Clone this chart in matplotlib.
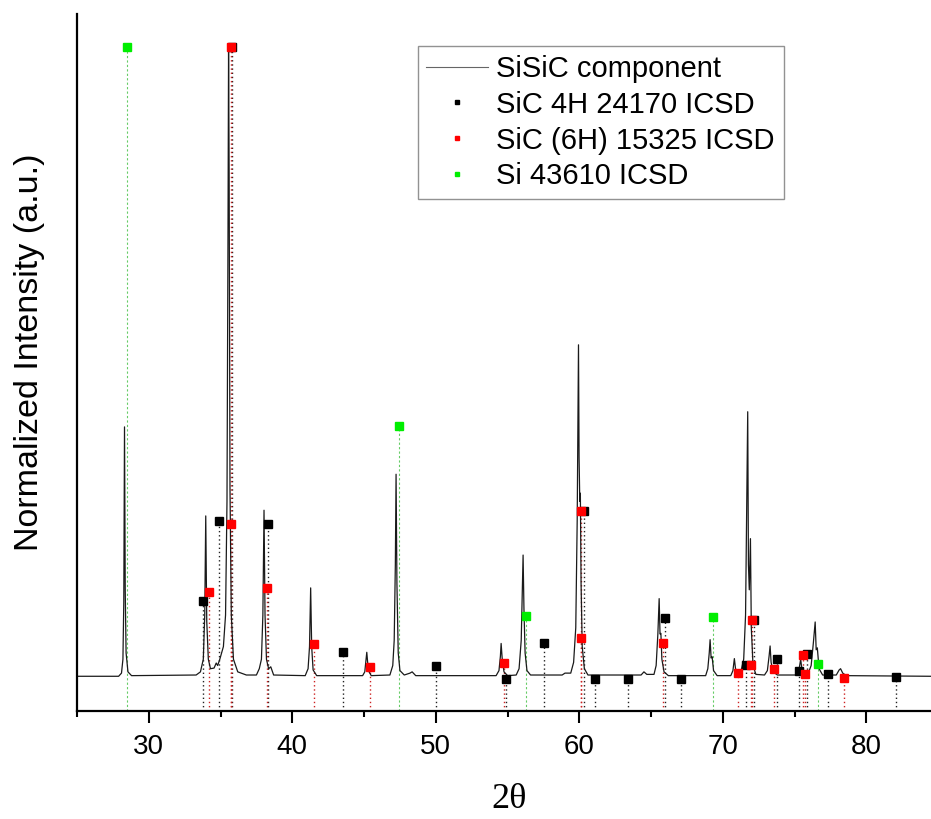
import numpy as np
import matplotlib
matplotlib.use("Agg")
import matplotlib.pyplot as plt
from matplotlib.ticker import MultipleLocator

plt.rcParams['font.family'] = ['Liberation Sans', 'DejaVu Sans']

# Patron de difraccion (vertices)
tt = [25.0, 27.9, 28.1, 28.2, 28.26, 28.31, 28.36, 28.42, 28.55, 28.8,
      33.3, 33.6, 33.8, 33.9, 33.97, 34.04, 34.15, 34.3, 34.55, 34.7, 34.8, 34.95,
      35.2, 35.35, 35.45, 35.52, 35.56, 35.6, 35.66, 35.75, 35.9, 36.2, 36.8,
      37.5, 37.7, 37.85, 37.95, 38.03, 38.1, 38.2, 38.35, 38.5, 38.7,
      40.9, 41.1, 41.2, 41.28, 41.35, 41.45, 41.7,
      44.9, 45.05, 45.19, 45.3, 45.5,
      46.8, 47.0, 47.1, 47.18, 47.23, 47.29, 47.38, 47.5, 47.8, 48.2, 48.35, 48.6,
      54.2, 54.4, 54.5, 54.55, 54.62, 54.75, 55.0,
      55.6, 55.8, 55.95, 56.03, 56.08, 56.14, 56.22, 56.35, 56.6,
      58.8, 59.0, 59.4, 59.6, 59.75, 59.85, 59.92, 59.94, 59.98, 60.03, 60.07, 60.12,
      60.2, 60.35, 60.6,
      64.3, 64.5, 64.7,
      65.2, 65.35, 65.47, 65.56, 65.62, 65.68, 65.75, 65.9, 66.2,
      68.8, 68.95, 69.05, 69.11, 69.18, 69.25, 69.35, 69.6,
      70.55, 70.7, 70.8, 70.88, 70.98,
      71.25, 71.45, 71.58, 71.66, 71.73, 71.78, 71.84, 71.92, 71.98, 72.1, 72.3,
      72.9, 73.1, 73.22, 73.29, 73.36, 73.5, 73.8,
      75.1, 75.3, 75.42, 75.5, 75.65,
      75.95, 76.15, 76.3, 76.43, 76.5, 76.58, 76.7, 76.95,
      77.9, 78.1, 78.2, 78.35, 78.6, 84.5]
inten = [0.3, 0.3, 0.8, 3, 12, 39.8, 14, 4, 1, 0.4,
         0.5, 1.0, 3, 10, 25.7, 9, 3, 1.5, 1.6, 2.4, 2.0, 3.0,
         5, 10, 28, 70, 99.5, 80, 30, 10, 3, 1, 0.5,
         0.5, 1.5, 3, 10, 26.6, 10, 3, 1.5, 1.8, 0.5,
         0.4, 1.5, 5, 14.3, 5, 1.3, 0.4,
         0.4, 1, 4.1, 1.2, 0.4,
         0.5, 2, 6, 18, 32.3, 15, 4, 1.2, 0.5, 0.8, 1.0, 0.4,
         0.4, 1.2, 3.5, 5.5, 3.2, 1.0, 0.4,
         0.5, 1.5, 6, 14, 19.5, 11, 4, 1.2, 0.5,
         0.5, 0.8, 0.8, 2.5, 8, 25, 45, 52.8, 35, 28, 29.3, 15,
         5, 1.5, 0.5,
         0.5, 1.0, 0.6,
         0.6, 2, 7, 12.6, 7, 7.1, 3, 1, 0.4,
         0.4, 1.5, 4, 6.1, 3.2, 3.4, 1.2, 0.4,
         0.4, 1.2, 3.1, 1.5, 1.2,
         1.0, 3, 10, 28, 42.2, 18, 14, 22.1, 8, 2, 0.6,
         0.5, 1.2, 3.5, 5.1, 2.5, 1.0, 0.5,
         0.5, 1.3, 3.0, 1.5, 1.0,
         0.8, 2, 5.5, 8.9, 4.5, 4.8, 1.5, 0.5,
         0.5, 1.3, 1.5, 0.8, 0.4, 0.3]

# Posiciones de referencia (2theta, intensidad relativa)
sic4h_pos = [33.76, 34.92, 35.78, 38.31, 43.51, 50.02, 54.9, 57.54, 60.35, 61.12,
             63.42, 65.99, 67.1, 71.59, 72.18, 73.75, 75.31, 75.84, 77.29, 82.07]
sic4h_int = [12.3, 24.9, 100, 24.4, 4.2, 1.9, -0.2, 5.6, 26.4, -0.2,
             -0.2, 9.6, -0.2, 2.1, 9.2, 3.0, 1.1, 3.8, 0.6, 0.2]

sic6h_pos = [34.18, 35.73, 35.7, 38.24, 41.49, 45.4, 54.76, 60.12, 60.12, 65.81,
             71.03, 71.94, 72.0, 73.57, 75.61, 75.73, 78.47]
sic6h_int = [13.6, 24.4, 100, 14.3, 5.4, 1.8, 2.4, 26.4, 6.4, 5.5,
             0.8, 2.1, 9.2, 1.5, 3.6, 0.6, 0.0]

si_pos = [28.48, 47.41, 56.29, 69.34, 76.61]
si_int = [100, 39.9, 9.9, 9.7, 2.3]

ymin, ymax = -5.2, 105.2

fig = plt.figure(figsize=(9.31, 8.19), dpi=100)
ax = fig.add_axes([77 / 931, 108 / 819, 854 / 931, 697 / 819])

# lineas punteadas hasta el eje
ax.vlines(sic4h_pos, ymin, sic4h_int, colors="#222222", linestyles=(0, (1, 2)), lw=1, zorder=1)
ax.vlines(sic6h_pos, ymin, sic6h_int, colors="#cc2222", linestyles=(0, (1, 2)), lw=1, zorder=1)
ax.vlines(si_pos, ymin, si_int, colors="#66cc66", linestyles=(0, (2, 2)), lw=0.8, zorder=1)

ax.plot(tt, inten, color="#1a1a1a", lw=0.9, zorder=2)
# muestra de la leyenda para el difractograma (linea gris mas fina)
ax.plot([], [], color="#666666", lw=0.8, label="SiSiC component")

ax.plot(sic4h_pos, sic4h_int, "s", color="black", ms=6, ls="none",
        label="SiC 4H 24170 ICSD", zorder=3)
ax.plot(sic6h_pos, sic6h_int, "s", color="#ff0000", ms=6, ls="none",
        label="SiC (6H) 15325 ICSD", zorder=4)
ax.plot(si_pos, si_int, "s", color="#00ee00", ms=6, ls="none",
        label="Si 43610 ICSD", zorder=5)

ax.set_xlim(25, 84.5)
ax.set_ylim(ymin, ymax)

ax.spines["top"].set_visible(False)
ax.spines["right"].set_visible(False)
ax.spines["left"].set_linewidth(1.6)
ax.spines["bottom"].set_linewidth(1.6)

ax.xaxis.set_major_locator(MultipleLocator(10))
ax.xaxis.set_minor_locator(MultipleLocator(5))
ax.tick_params(axis="x", which="major", direction="out", length=8.5, width=1.5,
               labelsize=20, pad=8)
ax.tick_params(axis="x", which="minor", direction="out", length=4.5, width=1.5)
ax.set_yticks([])

ax.set_ylabel("Normalized Intensity (a.u.)", fontsize=24.5)
ax.yaxis.set_label_coords(-0.037, 0.515)
ax.set_xlabel("2θ", fontsize=26, family=["Liberation Serif", "DejaVu Serif"])
ax.xaxis.set_label_coords(0.506, -0.104)

leg = ax.legend(loc="upper left", bbox_to_anchor=(0.399, 0.954), borderaxespad=0,
                fontsize=21, frameon=True, fancybox=False, edgecolor="#777777",
                markerscale=0.6, handlelength=2.1, handletextpad=0.3,
                labelspacing=0.27, borderpad=0.3)
leg.get_frame().set_linewidth(1.0)

fig.savefig("out.png", dpi=100)
